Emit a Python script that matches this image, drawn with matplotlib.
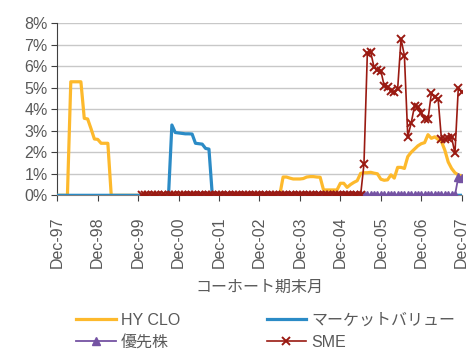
import numpy as np
import matplotlib
matplotlib.use("Agg")
import matplotlib.pyplot as plt

plt.rcParams['font.family'] = ['Liberation Sans', 'Noto Sans CJK JP', 'DejaVu Sans']

nan = np.nan

# monthly cohorts Dec-97 .. Dec-07 (121 months)
tick_labels = ["Dec-97", "Dec-98", "Dec-99", "Dec-00", "Dec-01", "Dec-02",
               "Dec-03", "Dec-04", "Dec-05", "Dec-06", "Dec-07"]

hy_clo = ([0, 0, 0, 0, 5.28, 5.28, 5.28, 5.28, 3.58, 3.55, 3.1, 2.62, 2.6, 2.42, 2.42, 2.42]
          + [0] * 51
          + [0.85, 0.85, 0.8, 0.76, 0.76, 0.76, 0.78, 0.85, 0.87, 0.87, 0.85, 0.84]
          + [0.25, 0.25, 0.25, 0.25, 0.25]
          + [0.56, 0.56, 0.37, 0.5, 0.6, 0.68, 1.02]
          + [1.05, 1.05, 1.07, 1.03, 1.0, 0.75, 0.7, 0.72, 0.95, 0.8]
          + [1.3, 1.3, 1.25, 1.8, 2.0, 2.15, 2.3, 2.4, 2.45, 2.82]
          + [2.65, 2.72, 2.6, 2.5, 2.1, 1.55, 1.25, 1.05, 0.95, 0.9])

market_value = ([0] * 34
                + [3.27, 2.92, 2.9, 2.88, 2.86, 2.86, 2.85, 2.42, 2.4, 2.38, 2.18, 2.15]
                + [0] * 75)

preferred = [nan] * 38 + [0] * 81 + [0.85, 0.82]

sme = ([nan] * 25 + [0] * 66
       + [1.45, 6.6, 6.65, 5.95, 5.85, 5.8, 5.1, 5.05, 4.85, 4.8,
          4.95, 7.27, 6.5, 2.73, 3.35, 4.15, 4.12, 3.84, 3.55, 3.53,
          4.74, 4.56, 4.5, 2.6, 2.6, 2.65, 2.7, 1.95, 5.0, 4.8])

x = np.arange(len(hy_clo))

c_hy = "#FDB92C"
c_mv = "#2B8BC6"
c_pf = "#7553A3"
c_sme = "#9A1A12"
txt = "#595959"

fig = plt.figure(figsize=(4.69, 3.53), dpi=100)
ax = fig.add_axes([0.1222, 0.4467, 0.8622, 0.4873])

h_hy, = ax.plot(x, hy_clo, color=c_hy, lw=2.3, label="HY CLO", zorder=3)
h_mv, = ax.plot(x, market_value, color=c_mv, lw=2.3, label="マーケットバリュー", zorder=4)
h_pf, = ax.plot(x, preferred, color=c_pf, lw=1.3, marker="^", ms=6, mec=c_pf, mfc=c_pf,
                label="優先株", zorder=5)
h_sme, = ax.plot(x, sme, color=c_sme, lw=1.2, marker="x", ms=6, mew=1.4, label="SME", zorder=6)

ax.set_xlim(0, 120)
ax.set_ylim(0, 8)
ax.set_yticks(range(0, 9))
ax.set_yticklabels([f"{v}%" for v in range(0, 9)])
ax.set_xticks(range(0, 121, 12))
ax.set_xticklabels(tick_labels, rotation=90)

ax.grid(axis="y", color="#C8C8C8", lw=1)
ax.set_axisbelow(True)
for s in ["top", "right"]:
    ax.spines[s].set_visible(False)
ax.spines["left"].set_color("#404040")
ax.spines["bottom"].set_color("#808080")
ax.tick_params(axis="both", colors=txt, labelsize=11.5, length=4, direction="out")
ax.tick_params(axis="x", pad=11, color="#404040")
ax.tick_params(axis="y", pad=3, color="#404040")

ax.set_xlabel("コーホート期末月", fontsize=11.5, color=txt, labelpad=9)

handles = [h_hy, h_pf, h_mv, h_sme]
leg = fig.legend(handles=handles, labels=[h.get_label() for h in handles],
                 loc="center left", bbox_to_anchor=(0.132, 0.062), ncol=2, frameon=False,
                 fontsize=11.5, handlelength=2.5, handletextpad=0.3,
                 columnspacing=5.4, labelspacing=0.45, labelcolor=txt)

fig.savefig("out.png", dpi=100)
